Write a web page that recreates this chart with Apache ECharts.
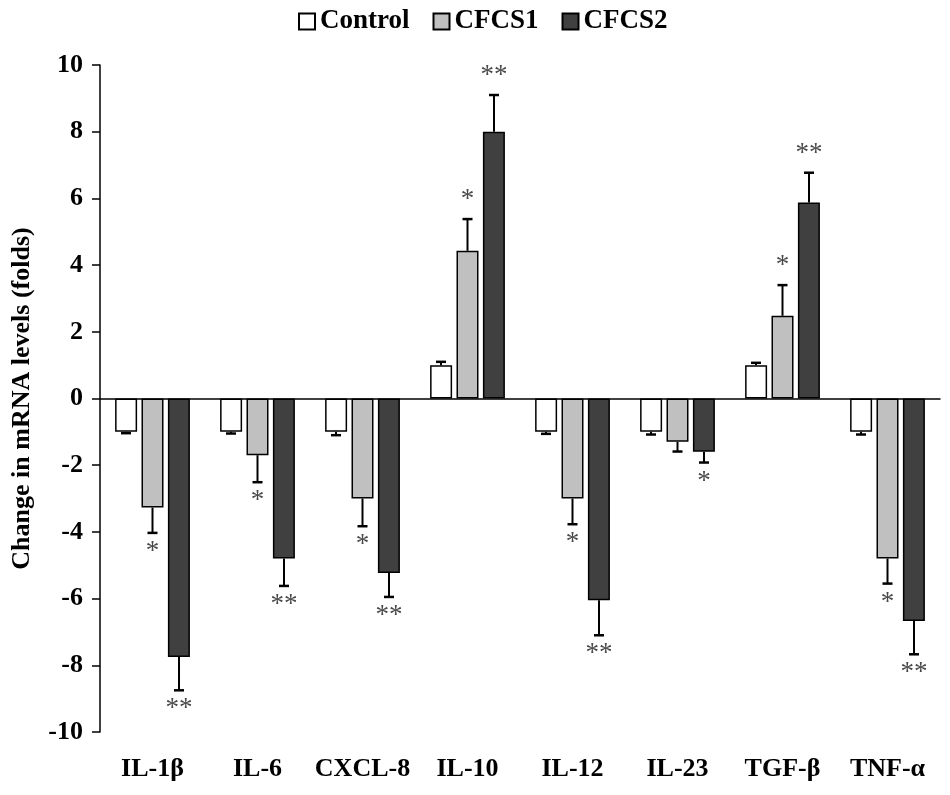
<!DOCTYPE html>
<html>
<head>
<meta charset="utf-8">
<script src="https://cdn.jsdelivr.net/npm/echarts@6/dist/echarts.min.js"></script>
<style>
  html, body {margin: 0; padding: 0; background: #fff;}
  #mainChart {width: 950px; height: 795px;}
</style>
</head>
<body>
<div id="mainChart"></div>
<script>
var categories = ['IL-1β', 'IL-6', 'CXCL-8', 'IL-10', 'IL-12', 'IL-23', 'TGF-β', 'TNF-α'];
var control = [-1, -1, -1, 1, -1, -1, 1, -1];
var controlErr = [0.04, 0.05, 0.1, 0.1, 0.06, 0.08, 0.07, 0.08];
var cfcs1 = [-3.27, -1.7, -3.0, 4.43, -3.0, -1.3, 2.48, -4.8];
var cfcs1Err = [0.76, 0.81, 0.83, 0.95, 0.77, 0.29, 0.92, 0.75];
var cfcs2 = [-7.75, -4.8, -5.23, 8.0, -6.05, -1.6, 5.88, -6.67];
var cfcs2Err = [1.0, 0.82, 0.72, 1.1, 1.05, 0.32, 0.89, 1.0];
var cfcs1Sig = ['*', '*', '*', '*', '*', '', '*', '*'];
var cfcs2Sig = ['**', '**', '**', '**', '**', '*', '**', '**'];
var yTicks = [-10, -8, -6, -4, -2, 0, 2, 4, 6, 8, 10];

var font = '"Liberation Serif", "Times New Roman", serif';
var barW = 22;
var gap = 4.5;

// error bar + significance stars, drawn per group
function errSeries(name, vals, errs, sig, slot) {
  var data = vals.map(function (v, i) { return [i, v, errs[i], sig[i]]; });
  return {
    name: name + ' err',
    type: 'custom',
    xAxisIndex: 0,
    z: 5,
    data: data,
    renderItem: function (params, api) {
      var i = api.value(0), v = api.value(1), e = api.value(2);
      var s = data[params.dataIndex][3];
      var end = v >= 0 ? v + e : v - e;
      var p0 = api.coord([i, v]);
      var p1 = api.coord([i, end]);
      var x = p0[0] + slot * (barW + gap);
      var dir = v >= 0 ? -1 : 1;
      var children = [
        {type: 'line', shape: {x1: x, y1: p0[1], x2: x, y2: p1[1]}, style: {stroke: '#000', lineWidth: 2}},
        {type: 'line', shape: {x1: x - 5, y1: p1[1], x2: x + 5, y2: p1[1]}, style: {stroke: '#000', lineWidth: 2.5}}
      ];
      if (s) {
        children.push({
          type: 'text',
          style: {
            x: x, y: p1[1] + dir * 19, text: s,
            fill: '#4a4a4a', font: '27px ' + font,
            align: 'center', verticalAlign: 'middle'
          }
        });
      }
      return {type: 'group', children: children};
    }
  };
}

var option = {
  animation: false,
  backgroundColor: '#fff',
  legend: {
    top: 3,
    left: 293,
    data: ['Control', 'CFCS1', 'CFCS2'],
    icon: 'rect',
    itemWidth: 16,
    itemHeight: 16,
    itemGap: 23,
    textStyle: {fontFamily: font, fontWeight: 'bold', fontSize: 27, color: '#000', padding: [0, 0, 0, 0]}
  },
  grid: {left: 100, right: 10, top: 65, bottom: 63, outerBoundsMode: 'none', containLabel: false},
  xAxis: [
    {
      type: 'category',
      data: categories,
      axisLine: {onZero: true, lineStyle: {color: '#000', width: 1.5}},
      axisTick: {show: false},
      axisLabel: {show: false}
    },
    {
      type: 'category',
      data: categories,
      position: 'bottom',
      axisLine: {show: false, onZero: false},
      axisTick: {show: false},
      axisLabel: {interval: 0, fontFamily: font, fontWeight: 'bold', fontSize: 26, color: '#000', margin: 24}
    }
  ],
  yAxis: {
    type: 'value',
    min: yTicks[0],
    max: yTicks[yTicks.length - 1],
    interval: 2,
    name: 'Change in mRNA levels (folds)',
    nameLocation: 'middle',
    nameGap: 65,
    nameTextStyle: {fontFamily: font, fontWeight: 'bold', fontSize: 26, color: '#000'},
    axisLine: {show: true, lineStyle: {color: '#000', width: 1.5}},
    axisTick: {show: true, inside: false, length: 8, lineStyle: {color: '#000', width: 1.5}},
    splitLine: {show: false},
    axisLabel: {fontFamily: font, fontWeight: 'bold', fontSize: 26, color: '#000', margin: 17}
  },
  series: [
    {
      name: 'Control', type: 'bar', data: control, barWidth: barW, barGap: '20%',
      itemStyle: {color: '#ffffff', borderColor: '#000', borderWidth: 1.5}
    },
    {
      name: 'CFCS1', type: 'bar', data: cfcs1, barWidth: barW, barGap: '20%',
      itemStyle: {color: '#c0c0c0', borderColor: '#000', borderWidth: 1.5}
    },
    {
      name: 'CFCS2', type: 'bar', data: cfcs2, barWidth: barW, barGap: '20%',
      itemStyle: {color: '#404040', borderColor: '#000', borderWidth: 1.5}
    },
    errSeries('Control', control, controlErr, ['', '', '', '', '', '', '', ''], -1),
    errSeries('CFCS1', cfcs1, cfcs1Err, cfcs1Sig, 0),
    errSeries('CFCS2', cfcs2, cfcs2Err, cfcs2Sig, 1)
  ]
};

var myChart = echarts.init(document.getElementById('mainChart'));
myChart.setOption(option);
</script>
</body>
</html>
